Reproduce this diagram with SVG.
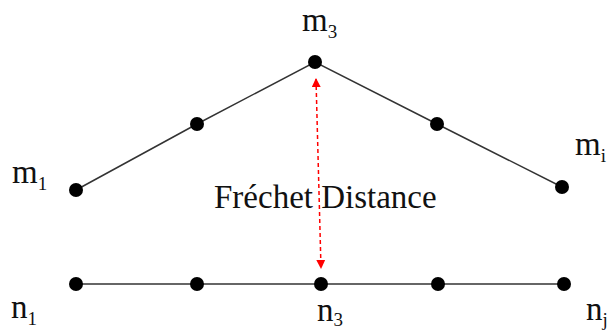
<svg xmlns="http://www.w3.org/2000/svg" width="611" height="331" viewBox="0 0 611 331">
<style>
.ln{stroke:#333;stroke-width:1.5;fill:none}
.dot{fill:#000}
.t{font-family:"Liberation Serif","Times New Roman",serif;font-size:33px;fill:#111}
.s{font-size:19px}
</style>
<defs>
<marker id="ah" viewBox="0 0 10 10" refX="9" refY="5" markerWidth="9" markerHeight="9" markerUnits="userSpaceOnUse" orient="auto-start-reverse">
<path d="M0,0 L10,5 L0,10 z" fill="#f00"/>
</marker>
</defs>
<g id="connectors">
<polyline class="ln" points="76,190 197,124 315,62 437,124 562,187"/>
<line class="ln" x1="76" y1="284" x2="564" y2="284"/>
<line x1="316" y1="79" x2="321" y2="268" stroke="#f00" stroke-width="1.5" stroke-dasharray="4,3" marker-start="url(#ah)" marker-end="url(#ah)"/>
</g>
<g id="m1"><circle class="dot" cx="76" cy="190" r="7"/><text class="t" x="12" y="183">m<tspan class="s" dy="7">1</tspan></text></g>
<g id="m2"><circle class="dot" cx="197" cy="124" r="7"/></g>
<g id="m3"><circle class="dot" cx="315" cy="62" r="7"/><text class="t" x="302" y="31">m<tspan class="s" dy="7">3</tspan></text></g>
<g id="m4"><circle class="dot" cx="437" cy="124" r="7"/></g>
<g id="mi"><circle class="dot" cx="562" cy="187" r="7"/><text class="t" x="575" y="155">m<tspan class="s" dy="7">i</tspan></text></g>
<g id="n1"><circle class="dot" cx="76" cy="284" r="7"/><text class="t" x="11" y="318">n<tspan class="s" dy="7">1</tspan></text></g>
<g id="n2"><circle class="dot" cx="197" cy="284" r="7"/></g>
<g id="n3"><circle class="dot" cx="321" cy="284" r="7"/><text class="t" x="317" y="321">n<tspan class="s" dy="5">3</tspan></text></g>
<g id="n4"><circle class="dot" cx="438" cy="284" r="7"/></g>
<g id="nj"><circle class="dot" cx="564" cy="284" r="7"/><text class="t" x="586" y="320">n<tspan class="s" dy="6">j</tspan></text></g>
<g id="label"><text class="t" x="214" y="208">Fréchet Distance</text></g>
</svg>
